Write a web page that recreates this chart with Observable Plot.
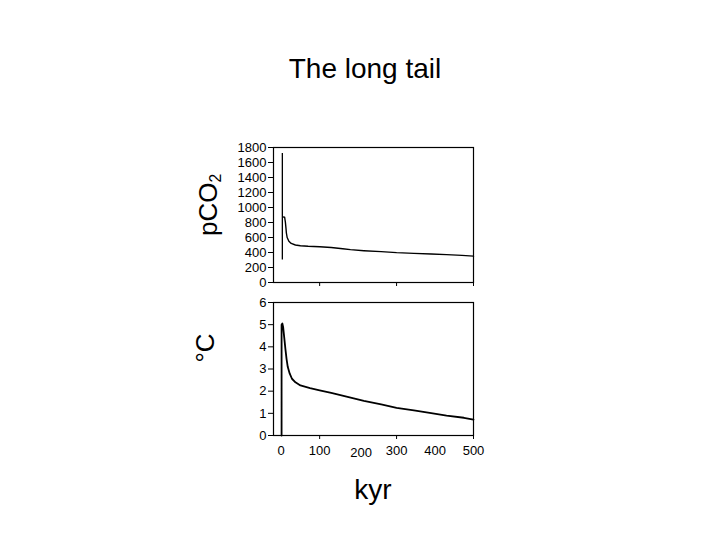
<!DOCTYPE html>
<html>
<head>
<meta charset="utf-8">
<script src="https://cdn.jsdelivr.net/npm/d3@7"></script>
<script src="https://cdn.jsdelivr.net/npm/@observablehq/plot@0.6"></script>
<style>
  html, body { margin: 0; padding: 0; background: #fff; }
  #wrap { position: relative; width: 720px; height: 540px; font-family: "Liberation Sans", Arial, Helvetica, sans-serif; color: #000; overflow: hidden; }
  .abs { position: absolute; white-space: nowrap; line-height: 1; }
  .rot { transform: translate(-50%, -50%) rotate(-90deg); }
  sub { font-size: 60%; vertical-align: -0.25em; line-height: 0; }
</style>
</head>
<body>
<div id="wrap">
  <div class="abs" id="title" style="left:365px; top:55px; font-size:28px; transform:translateX(-50%);">The long tail</div>
  <div class="abs rot" style="left:208px; top:205px; font-size:26px;">pCO<sub>2</sub></div>
  <div class="abs rot" style="left:205px; top:348px; font-size:26px;">°C</div>
  <div class="abs" style="left:373px; top:476px; font-size:28px; transform:translateX(-50%);">kyr</div>
  <div class="abs" id="top" style="left:0; top:137px;"></div>
  <div class="abs" id="bottom" style="left:0; top:292px;"></div>
</div>
<script>
// ---- data ----
const co2SpikeX = 3;
const co2SpikeLow = 300;
const co2SpikeHigh = 1720;
const co2X = [4, 9, 11, 12.5, 13.5, 15.5, 20, 26, 37, 50, 70, 100, 130, 160, 180, 215, 260, 300, 345, 390, 430, 470, 500];
const co2Y = [875, 870, 800, 720, 660, 600, 550, 521, 500, 490, 483, 476, 466, 450, 438, 424, 411, 398, 389, 380, 371, 362, 352];

const tempX = [1, 1, 3, 5, 8, 11, 14, 17, 22, 28, 37, 50, 75, 100, 130, 170, 215, 260, 300, 345, 390, 430, 475, 500];
const tempY = [0, 5.0, 5.05, 4.9, 4.4, 3.9, 3.45, 3.1, 2.8, 2.56, 2.4, 2.26, 2.14, 2.04, 1.92, 1.75, 1.56, 1.40, 1.25, 1.13, 1.01, 0.90, 0.80, 0.72];

const co2Ticks = [0, 200, 400, 600, 800, 1000, 1200, 1400, 1600, 1800];
const tempTicks = [0, 1, 2, 3, 4, 5, 6];
const xTickMarks = [100, 300, 500];
const xTickLabels = [0, 100, 200, 300, 400, 500];

const co2Data = co2X.map((x, i) => ({x, y: co2Y[i]}));
const tempData = tempX.map((x, i) => ({x, y: tempY[i]}));

const font = '"Liberation Sans", Arial, Helvetica, sans-serif';
const xDomain = [-20, 500];
const common = {
  width: 720,
  marginLeft: 273,
  marginRight: 247,
  style: {fontFamily: font, fontSize: "13px", color: "#000", background: "transparent", overflow: "visible"}
};

const topPlot = Plot.plot({
  ...common,
  height: 155,
  marginTop: 10,
  marginBottom: 10,
  x: {domain: xDomain},
  y: {domain: [0, 1800]},
  marks: [
    Plot.frame({stroke: "#000", strokeWidth: 1.2}),
    Plot.axisY({ticks: co2Ticks, tickSize: 5, tickPadding: 2, fontSize: 13, label: null, tickFormat: d => String(d)}),
    Plot.axisX({ticks: xTickMarks, tickSize: 4, text: null, label: null}),
    Plot.ruleX([co2SpikeX], {y1: co2SpikeLow, y2: co2SpikeHigh, stroke: "#000", strokeWidth: 1.3}),
    Plot.line(co2Data, {x: "x", y: "y", stroke: "#000", strokeWidth: 1.4})
  ]
});
document.getElementById("top").appendChild(topPlot);

const bottomPlot = Plot.plot({
  ...common,
  height: 173,
  marginTop: 10,
  marginBottom: 30,
  x: {domain: xDomain},
  y: {domain: [0, 6]},
  marks: [
    Plot.frame({stroke: "#000", strokeWidth: 1.2}),
    Plot.axisY({ticks: tempTicks, tickSize: 5, tickPadding: 2, fontSize: 13, label: null, tickFormat: d => String(d)}),
    Plot.axisX({ticks: xTickMarks, tickSize: 4, text: null, label: null}),
    Plot.text(xTickLabels.filter(d => d !== 200), {
      x: d => d, y: 0, text: d => String(d), dy: 15, fontSize: 13, fill: "#000"
    }),
    Plot.text(xTickLabels.filter(d => d === 200), {
      x: d => d, y: 0, text: d => String(d), dy: 17, dx: 3, fontSize: 13, fill: "#000"
    }),
    Plot.line(tempData, {x: "x", y: "y", stroke: "#000", strokeWidth: 1.8})
  ]
});
document.getElementById("bottom").appendChild(bottomPlot);
</script>
</body>
</html>
